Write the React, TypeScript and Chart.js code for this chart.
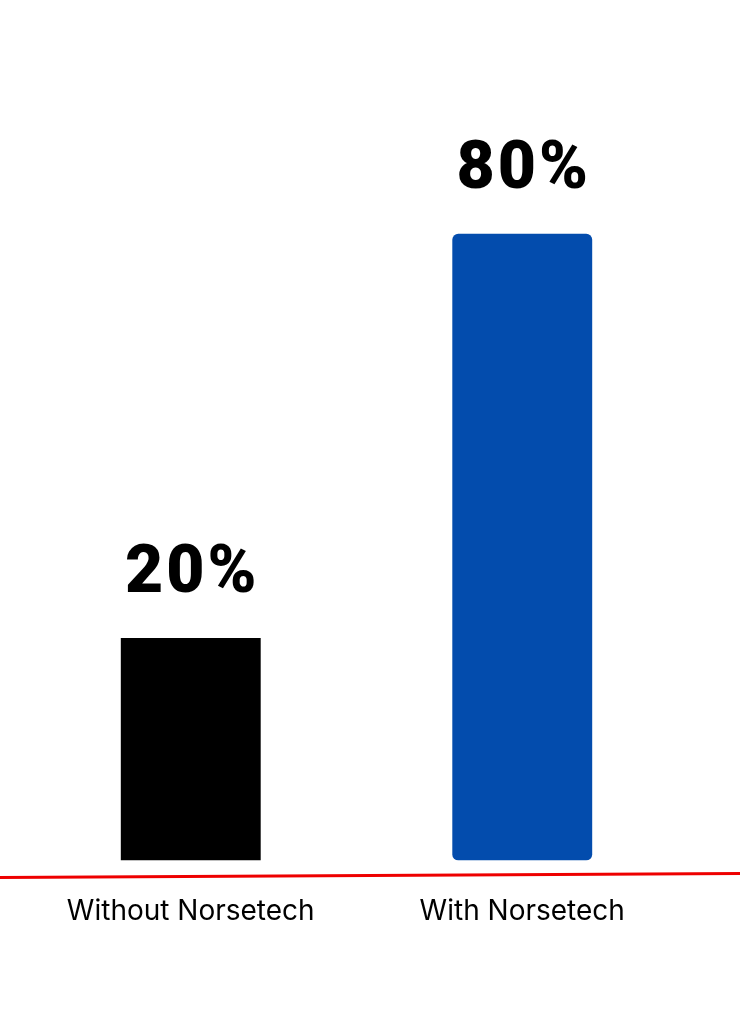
import React, { useEffect, useRef } from 'react';
import Chart, { ChartConfiguration, Plugin } from 'chart.js/auto';

const categories = ['Without Norsetech', 'With Norsetech'];
const shares = [20, 80];
const valueLabels = ['20%', '80%'];
const barColors = ['#000000', '#034CAD'];
const barRadii = [0, 6];

// custom labels above bars + red baseline across the page
const overlayPlugin: Plugin<'bar'> = {
  id: 'overlay',
  afterDatasetsDraw(chart) {
    const ctx = chart.ctx as CanvasRenderingContext2D & { letterSpacing?: string };
    const meta = chart.getDatasetMeta(0);
    ctx.save();
    ctx.fillStyle = '#000000';
    ctx.font = '900 66px Roboto';
    ctx.letterSpacing = '3px';
    ctx.textAlign = 'center';
    ctx.textBaseline = 'alphabetic';
    meta.data.forEach((bar, i) => {
      const { x, y } = bar.getProps(['x', 'y'], true) as { x: number; y: number };
      ctx.fillText(valueLabels[i], x + 1.5, y - 46);
    });
    ctx.restore();
  },
  afterDraw(chart) {
    const ctx = chart.ctx;
    ctx.save();
    ctx.strokeStyle = '#EE0000';
    ctx.lineWidth = 3;
    ctx.beginPath();
    ctx.moveTo(0, 877.5);
    ctx.lineTo(chart.width, 873.5);
    ctx.stroke();
    ctx.restore();
  },
};

const App: React.FC = () => {
  const chartRef = useRef<Chart<'bar'>>();
  const canvasRef = useRef<HTMLCanvasElement>(null);

  useEffect(() => {
    const canvas = canvasRef.current;
    if (!canvas) return;
    if (chartRef.current) chartRef.current.destroy();

    const config: ChartConfiguration<'bar'> = {
      type: 'bar',
      data: {
        labels: categories,
        datasets: [
          {
            data: shares,
            backgroundColor: barColors,
            borderRadius: barRadii,
            borderSkipped: false,
            base: -13,
            categoryPercentage: 1,
            barPercentage: 0.422,
          },
        ],
      },
      options: {
        animation: false,
        responsive: false,
        devicePixelRatio: 1,
        layout: { padding: { top: 99, bottom: 58, left: 25, right: 52 } },
        plugins: { legend: { display: false }, tooltip: { enabled: false } },
        scales: {
          x: {
            grid: { display: false, drawTicks: false },
            border: { display: false },
            ticks: {
              padding: 34,
              color: '#000000',
              font: { family: 'Inter', size: 28, lineHeight: 1.2 },
              maxRotation: 0,
            },
          },
          y: {
            display: false,
            min: -13,
            max: 100,
          },
        },
      },
      plugins: [overlayPlugin],
    };

    chartRef.current = new Chart(canvas, config);
    return () => {
      if (chartRef.current) chartRef.current.destroy();
    };
  }, []);

  return (
    <div style={{ position: 'fixed', left: 0, top: 0, width: 740, height: 1020, background: '#ffffff' }}>
      <canvas ref={canvasRef} width={740} height={1020} style={{ width: 740, height: 1020 }} />
    </div>
  );
};

export default App;
